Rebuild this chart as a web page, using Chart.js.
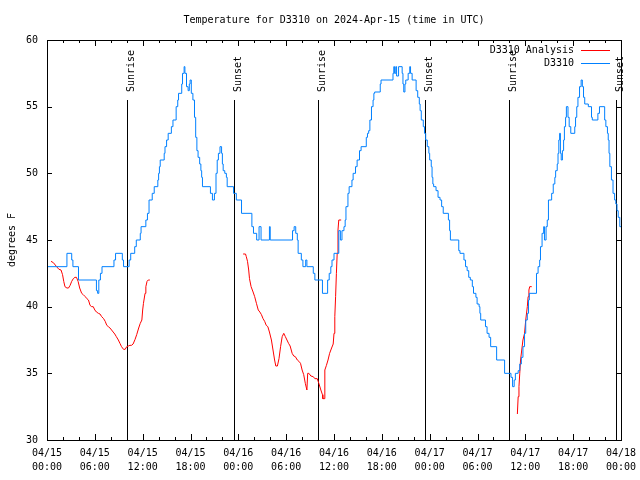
<!DOCTYPE html>
<html>
<head>
<meta charset="utf-8">
<title>Temperature for D3310</title>
<script src="https://cdn.jsdelivr.net/npm/chart.js@4.4.1/dist/chart.umd.min.js"></script>
<style>
  html, body { margin: 0; padding: 0; background: #fff; }
  canvas { display: block; }
</style>
</head>
<body>
<canvas id="tempChart" width="640" height="480"></canvas>
<script>
const chartTitle = 'Temperature for D3310 on 2024-Apr-15 (time in UTC)'
const yTitle = 'degrees F'
const dayLabels = ['04/15', '04/16', '04/17', '04/18']

// all times are hours after 04/15 00:00 UTC
const sunriseHours = [10.04, 34.05, 57.99]
const sunsetHours = [23.4, 47.46, 71.42]

// station readings (D3310)
const obsHours = [
  0, 2.5, 3.1, 3.25, 3.95, 6.2, 6.35, 6.5, 6.7, 6.9,
  8.4, 8.6, 9.45, 9.6, 10.3, 10.5, 11.0, 11.2, 11.7, 11.8,
  12.4, 12.6, 12.8, 13.2, 13.45, 13.9, 14.0, 14.1, 14.2, 14.7,
  14.8, 15.0, 15.2, 15.6, 15.8, 16.2, 16.4, 16.5, 16.9, 17.0,
  17.2, 17.3, 17.5, 17.7, 17.85, 17.95, 18.1, 18.3, 18.5, 18.65,
  18.8, 18.95, 19.15, 19.3, 19.4, 19.5, 20.5, 20.75, 21.0, 21.2,
  21.35, 21.5, 21.7, 21.9, 22.0, 22.1, 22.3, 22.5, 22.6, 23.4,
  23.75, 24.4, 25.7, 25.9, 26.3, 26.6, 26.85, 27.9, 28.0, 30.8,
  31.0, 31.2, 31.4, 31.5, 31.9, 32.1, 32.45, 32.6, 33.4, 33.6,
  34.55, 35.2, 35.4, 35.6, 35.75, 36.0, 36.6, 36.8, 37.0, 37.25,
  37.4, 37.5, 37.75, 37.9, 38.25, 38.4, 38.7, 38.9, 39.2, 39.4,
  40.05, 40.2, 40.35, 40.5, 40.7, 40.9, 41.0, 41.1, 41.8, 41.9,
  43.4, 43.5, 43.6, 43.75, 43.85, 44.1, 44.55, 44.65, 44.75, 44.9,
  45.0, 45.3, 45.5, 45.6, 45.8, 46.3, 46.5, 46.7, 46.8, 46.95,
  47.2, 47.35, 47.5, 47.7, 47.9, 48.0, 48.2, 48.3, 48.4, 48.5,
  48.8, 49.05, 49.3, 49.5, 49.7, 50.35, 50.5, 50.6, 51.65, 51.8,
  52.3, 52.5, 52.7, 52.9, 53.1, 53.35, 53.5, 53.8, 53.95, 54.2,
  54.3, 54.4, 55.0, 55.2, 55.45, 55.65, 56.4, 57.4, 58.2, 58.4,
  58.6, 58.75, 59.1, 59.3, 59.5, 59.7, 59.9, 60.05, 60.25, 60.4,
  60.5, 61.4, 61.6, 61.8, 61.9, 62.1, 62.3, 62.4, 62.6, 62.75,
  62.9, 63.3, 63.5, 63.7, 63.8, 64.0, 64.1, 64.2, 64.3, 64.4,
  64.5, 64.65, 64.8, 64.9, 65.05, 65.15, 65.35, 65.5, 65.7, 66.2,
  66.3, 66.45, 66.6, 66.8, 67.0, 67.15, 67.3, 67.45, 67.9, 68.3,
  68.4, 69.1, 69.3, 69.95, 70.1, 70.3, 70.4, 70.5, 70.6, 70.8,
  71.0, 71.2, 71.35, 71.5, 71.65, 71.85, 72
]
const obsTemps = [
  43, 44, 43.5, 43, 42, 41.2, 41, 42, 42.5, 43,
  43.5, 44, 43.5, 43, 43.5, 44, 44.5, 45, 45.5, 46,
  46.5, 47, 48, 48.5, 49, 49.5, 50, 50.5, 51, 51.5,
  52, 52.5, 53, 53.5, 54, 55, 55.5, 56, 56.7, 57.5,
  58, 57.5, 56.5, 56.2, 56.7, 57, 56, 55.5, 54.2, 52.7,
  51.7, 51.2, 50.7, 50.2, 49.7, 49, 48.5, 48, 48.5, 50,
  51, 51.5, 52, 51.5, 50.7, 50.2, 50, 49.7, 49, 48.5,
  48, 47, 46, 45.5, 45, 46, 45, 46, 45, 45.7,
  46, 45.5, 45, 44, 43.5, 43, 43.5, 43, 42.5, 42,
  41, 42, 42.5, 43, 43.5, 44, 45.7, 45, 45.7, 46,
  46.5, 47.5, 48.5, 49, 49.5, 50, 50.5, 51, 51.7, 52,
  52.7, 53, 53.2, 54, 55, 55.5, 56, 56.1, 56.7, 57,
  57.5, 58, 57.5, 58, 57.3, 58, 57.5, 56.7, 56.1, 56.7,
  57, 57.5, 58, 57.5, 57, 56.2, 55.7, 55.2, 54.7, 54,
  53.5, 53, 52.5, 52, 51.5, 51, 50.5, 49.7, 49.2, 49,
  48.7, 48.2, 48, 47.5, 47, 46.5, 45.7, 45, 44.2, 44,
  43.5, 43, 42.7, 42.2, 42, 41.5, 41, 40.7, 40.2, 40,
  39.5, 39, 38.5, 38, 37.7, 37, 36, 35, 34.7, 34,
  34.5, 35, 35.2, 35.7, 36.2, 37, 38, 39, 39.5, 40.5,
  41, 42.5, 43, 43.5, 44.5, 45.5, 46, 45, 46, 46.5,
  48, 48.5, 49.2, 49.7, 50.2, 50.7, 51.5, 52.5, 53, 51.5,
  51, 51.7, 52.5, 53.5, 54.2, 55, 54.2, 53.5, 53, 53.5,
  54.2, 55, 55.7, 56.5, 57, 56.5, 55.7, 55.2, 55, 54.2,
  54, 54.5, 55, 54, 53.5, 53, 52.5, 51.5, 50.5, 49.5,
  48.5, 48, 47.7, 47.2, 46.7, 46, 46
]

// model analysis (D3310 Analysis), null = no analysis run
const anaHours = [
  0.5, 0.8, 1.2, 1.5, 1.76, 1.95, 2.1, 2.25, 2.5, 2.7,
  2.9, 3.1, 3.3, 3.5, 3.7, 3.9, 4.1, 4.35, 4.55, 4.8,
  5.0, 5.2, 5.4, 5.6, 5.8, 6.0, 6.2, 6.45, 6.65, 6.86,
  7.1, 7.3, 7.5, 7.7, 7.9, 8.1, 8.3, 8.5, 8.7, 8.95,
  9.15, 9.35, 9.6, 9.8, 10.0, 10.2, 10.4, 10.6, 10.8, 11.05,
  11.25, 11.5, 11.7, 11.9, 12.0, 12.1, 12.3, 12.4, 12.55, 12.7,
  12.9, 13,
  24.6, 24.9, 25.0, 25.15, 25.3, 25.4, 25.6, 25.85, 26.05, 26.27,
  26.5, 26.7, 26.9, 27.1, 27.3, 27.5, 27.7, 27.9, 28.15, 28.35,
  28.55, 28.7, 28.9, 29.1, 29.3, 29.5, 29.7, 29.9, 30.1, 30.3,
  30.5, 30.75, 30.95, 31.15, 31.4, 31.6, 31.8, 32.0, 32.2, 32.4,
  32.6, 32.7, 32.85, 33.1, 33.4, 33.6, 33.9, 34.1, 34.35, 34.55,
  34.6, 34.75, 34.85, 35.05, 35.25, 35.45, 35.7, 35.9, 36.0, 36.1,
  36.2, 36.3, 36.4, 36.5, 36.6, 36.9, 37,
  59.0, 59.1, 59.2, 59.3, 59.4, 59.55, 59.7, 59.9, 60.05, 60.25,
  60.35, 60.45, 60.55, 60.8
]
const anaTemps = [
  43.4, 43.3, 43, 42.8, 42.75, 42.4, 41.9, 41.5, 41.4, 41.4,
  41.6, 41.9, 42.1, 42.2, 42.2, 41.9, 41.4, 41, 40.9, 40.75,
  40.6, 40.5, 40.1, 40, 40, 39.75, 39.6, 39.5, 39.45, 39.25,
  39.1, 38.9, 38.6, 38.5, 38.4, 38.25, 38.1, 37.95, 37.75, 37.5,
  37.25, 37, 36.8, 36.8, 37, 37.05, 37.1, 37.1, 37.2, 37.55,
  37.9, 38.4, 38.75, 39, 39.75, 40.25, 41, 41.5, 41.9, 42,
  42, null,
  43.95, 43.95, 43.75, 43.4, 42.75, 42.1, 41.5, 41.1, 40.75, 40.25,
  39.75, 39.6, 39.4, 39.1, 38.9, 38.6, 38.5, 38.1, 37.5, 36.75,
  36, 35.55, 35.55, 36.1, 37, 37.75, 38, 37.75, 37.5, 37.25,
  37.05, 36.5, 36.3, 36.25, 36, 35.9, 35.75, 35.25, 34.9, 34.25,
  33.75, 35, 35, 34.8, 34.75, 34.6, 34.6, 34.25, 33.75, 33.4,
  33.1, 33.1, 35.25, 35.6, 36, 36.5, 36.9, 37.2, 38, 39.25,
  40.75, 42.5, 44, 45.75, 46.5, 46.5, null,
  31.95, 33.25, 34, 35, 36, 36.75, 37.5, 38, 39, 40,
  40.75, 41.25, 41.5, 41.5
]

const RED = '#ff0000'
const BLUE = '#0080ff'
const FONT = '10px "DejaVu Sans Mono"'

Chart.defaults.font.family = '"DejaVu Sans Mono", monospace'
Chart.defaults.font.size = 10
Chart.defaults.color = '#000'

// gnuplot style frame, inward ticks, sun lines, titles and legend
const gnuplotLook = {
  id: 'gnuplotLook',
  beforeDatasetsDraw(chart) {
    const { ctx, chartArea: a, scales: { x } } = chart
    ctx.save()
    ctx.strokeStyle = '#000'
    ctx.fillStyle = '#000'
    ctx.lineWidth = 1
    ctx.font = FONT
    const marks = sunriseHours.map(h => [h, 'Sunrise'])
      .concat(sunsetHours.map(h => [h, 'Sunset']))
    marks.forEach(([h, name]) => {
      const px = Math.round(x.getPixelForValue(h)) + 0.5
      ctx.beginPath()
      ctx.moveTo(px, a.top + 60)
      ctx.lineTo(px, a.bottom)
      ctx.stroke()
      ctx.save()
      ctx.translate(px + 6, a.top + 52)
      ctx.rotate(-Math.PI / 2)
      ctx.textAlign = 'left'
      ctx.textBaseline = 'alphabetic'
      ctx.fillText(name, 0, 0)
      ctx.restore()
    })
    ctx.restore()
  },
  afterDraw(chart) {
    const { ctx, chartArea: a, scales: { x, y } } = chart
    ctx.save()
    ctx.strokeStyle = '#000'
    ctx.fillStyle = '#000'
    ctx.lineWidth = 1
    ctx.font = FONT

    // frame
    ctx.strokeRect(Math.round(a.left) + 0.5, Math.round(a.top) + 0.5,
      Math.round(a.right - a.left), Math.round(a.bottom - a.top))

    // x ticks every 2 h, longer every 6 h
    ctx.beginPath()
    for (let h = 0; h <= 72; h += 2) {
      const px = Math.round(x.getPixelForValue(h)) + 0.5
      const len = h % 6 === 0 ? 6 : 3
      ctx.moveTo(px, a.bottom); ctx.lineTo(px, a.bottom - len)
      ctx.moveTo(px, a.top); ctx.lineTo(px, a.top + len)
    }
    // y ticks
    for (let t = 30; t <= 60; t += 5) {
      const py = Math.round(y.getPixelForValue(t)) + 0.5
      ctx.moveTo(a.left, py); ctx.lineTo(a.left + 5, py)
      ctx.moveTo(a.right, py); ctx.lineTo(a.right - 5, py)
    }
    ctx.stroke()

    // chart title
    ctx.textAlign = 'center'
    ctx.textBaseline = 'middle'
    ctx.fillText(chartTitle, (a.left + a.right) / 2, 20)

    // y axis title
    ctx.save()
    ctx.translate(12, (a.top + a.bottom) / 2)
    ctx.rotate(-Math.PI / 2)
    ctx.fillText(yTitle, 0, 0)
    ctx.restore()

    // legend, top right inside the plot
    chart.data.datasets.slice().reverse().forEach((ds, i) => {
      const ly = Math.round(a.top + 10 + i * 13) + 0.5
      ctx.textAlign = 'right'
      ctx.fillStyle = '#000'
      ctx.fillText(ds.label, a.right - 47, ly)
      ctx.strokeStyle = ds.borderColor
      ctx.beginPath()
      ctx.moveTo(a.right - 40, ly)
      ctx.lineTo(a.right - 11, ly)
      ctx.stroke()
    })
    ctx.restore()
  }
}

const pad = n => (n < 10 ? '0' : '') + n

new Chart(document.getElementById('tempChart'), {
  type: 'line',
  data: {
    datasets: [
      {
        label: 'D3310',
        data: obsHours.map((h, i) => ({ x: h, y: obsTemps[i] })),
        borderColor: BLUE,
        borderWidth: 1,
        pointRadius: 0,
        stepped: 'before',
        order: 0
      },
      {
        label: 'D3310 Analysis',
        data: anaHours.map((h, i) => ({ x: h, y: anaTemps[i] })),
        borderColor: RED,
        borderWidth: 1,
        pointRadius: 0,
        tension: 0,
        spanGaps: false,
        order: 1
      }
    ]
  },
  options: {
    responsive: false,
    animation: false,
    events: [],
    layout: { padding: { top: 40, right: 19, left: 0, bottom: 0 } },
    plugins: {
      legend: { display: false },
      tooltip: { enabled: false },
      title: { display: false }
    },
    scales: {
      x: {
        type: 'linear',
        min: 0,
        max: 72,
        grid: { display: false, drawTicks: false },
        border: { display: false },
        ticks: {
          stepSize: 6,
          autoSkip: false,
          maxRotation: 0,
          padding: 6,
          font: { size: 10, lineHeight: 1.4 },
          callback: v => [dayLabels[Math.floor(v / 24)], pad(v % 24) + ':00']
        },
        afterFit: s => { s.height = 40; s.paddingLeft = 0; s.paddingRight = 0 }
      },
      y: {
        min: 30,
        max: 60,
        grid: { display: false, drawTicks: false },
        border: { display: false },
        ticks: { stepSize: 5, padding: 9 },
        afterFit: s => { s.width = 47 }
      }
    }
  },
  plugins: [gnuplotLook]
})
</script>
</body>
</html>
